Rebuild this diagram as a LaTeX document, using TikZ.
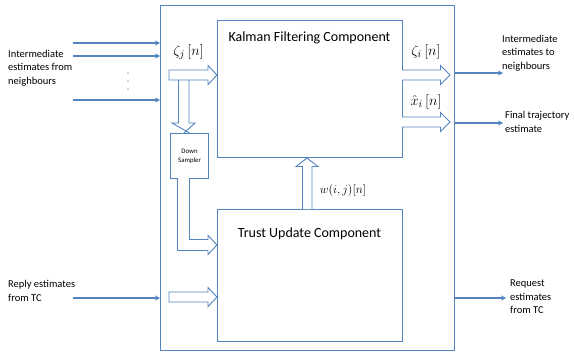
\documentclass[tikz,border=0pt]{standalone}
\usepackage{fontspec}
\setmainfont{Carlito}
\usetikzlibrary{arrows.meta}
\definecolor{lblue}{RGB}{84,132,192}
\tikzset{
  box/.style={draw=lblue, line width=1.1pt, fill=white, inner sep=0pt, anchor=north west},
  harrow/.style={draw=lblue, line width=0.9pt, fill=white, line join=miter},
  thin/.style={draw=lblue, line width=1.4pt, -{Stealth[length=5pt,width=5pt]}},
  lbl/.style={font=\fontsize{10.5}{13.5}\selectfont, align=left, anchor=west, inner sep=0pt},
  title/.style={font=\fontsize{14}{16}\selectfont, inner sep=0pt},
  mlbl/.style={font=\fontsize{15.5}{17}\selectfont, inner sep=0pt},
}
\begin{document}
\begin{tikzpicture}[x=1pt,y=-1pt]
\useasboundingbox (0,0) rectangle (574,356);
% boxes
\node[box, minimum width=294pt, minimum height=345pt] (outer) at (160,5) {};
\node[box, minimum width=185pt, minimum height=137pt] (kf) at (217,20) {};
\node[box, minimum width=185pt, minimum height=132pt] (tu) at (217,209) {};
\node[box, minimum width=38pt, minimum height=45pt] (ds) at (170,133) {};
\node[font=\fontsize{6.8}{9}\selectfont, align=center, inner sep=0pt] (dstext) at (ds.center) {Down\\Sampler};
\node[title] (kft) at (309.5,38) {Kalman Filtering Component};
\node[title] (tut) at (309.5,234) {Trust Update Component};
% math labels
\node[mlbl] (zj) at (188.5,52) {$\zeta_j\,[n]$};
\node[mlbl] (zi) at (426,52) {$\zeta_i\,[n]$};
\node[mlbl] (xi) at (426,102) {$\hat{x}_i\,[n]$};
\node[font=\fontsize{12.5}{14}\selectfont, inner sep=0pt] (w) at (343,190) {$w(i,j)[n]$};
% hollow arrows
\coordinate (zjs) at (169,75);
\draw[harrow] (169,70) -- (208,70) -- (208,65.5) -- (kf.west |- zjs) -- (208,84.5) -- (208,80) -- (169,80) -- cycle;
\draw[harrow] (178.5,80) -- (178.5,123) -- (172,123) -- (ds.north) ++(-5.5,0) -- (195,123) -- (189,123) -- (189,80);
\coordinate (tb) at (0,245);
\draw[harrow] (177.5,178) -- (177.5,250.5) -- (208,250.5) -- (208,254.5) -- (tu.west |- tb) -- (208,235.5) -- (208,239.5) -- (189.5,239.5) -- (189.5,178);
\coordinate (rb) at (0,297);
\draw[harrow] (169,292) -- (208,292) -- (208,287.5) -- (tu.west |- rb) -- (208,306.5) -- (208,302) -- (169,302) -- cycle;
\coordinate (wb) at (307,0);
\draw[harrow] (302.5,209) -- (302.5,166.5) -- (296,166.5) -- (kf.south -| wb) -- (318,166.5) -- (312,166.5) -- (312,209);
\draw[harrow] (402,70) -- (440.5,70) -- (440.5,65.5) -- (450,75) -- (440.5,84.5) -- (440.5,80) -- (402,80);
\draw[harrow] (402,117) -- (440.5,117) -- (440.5,112.5) -- (450,122) -- (440.5,131.5) -- (440.5,127) -- (402,127);
% thin input arrows
\coordinate (i1) at (73,43);
\coordinate (i2) at (73,56);
\coordinate (i3) at (73,100);
\coordinate (i4) at (73,298);
\draw[thin] (i1) -- (outer.west |- i1);
\draw[thin] (i2) -- (outer.west |- i2);
\draw[thin] (i3) -- (outer.west |- i3);
\draw[thin] (i4) -- (outer.west |- i4);
\foreach \yy in {73,81,89} \fill[black!70] (128,\yy) circle (0.55pt);
% thin output arrows
\coordinate (o1) at (503,73);
\coordinate (o2) at (503,123);
\coordinate (o3) at (506,298);
\draw[thin] (outer.east |- o1) -- (o1);
\draw[thin] (outer.east |- o2) -- (o2);
\draw[thin] (outer.east |- o3) -- (o3);
% outside labels
\node[lbl] (lin) at (8,68) {Intermediate\\estimates from\\neighbours};
\node[lbl] (lrep) at (8,291) {Reply estimates\\from TC};
\node[lbl] (lout) at (502,53) {Intermediate\\estimates to\\neighbours};
\node[lbl] (lfin) at (505,122) {Final trajectory\\estimate};
\node[lbl] (lreq) at (510,297) {Request\\estimates\\from TC};
\end{tikzpicture}
\end{document}
